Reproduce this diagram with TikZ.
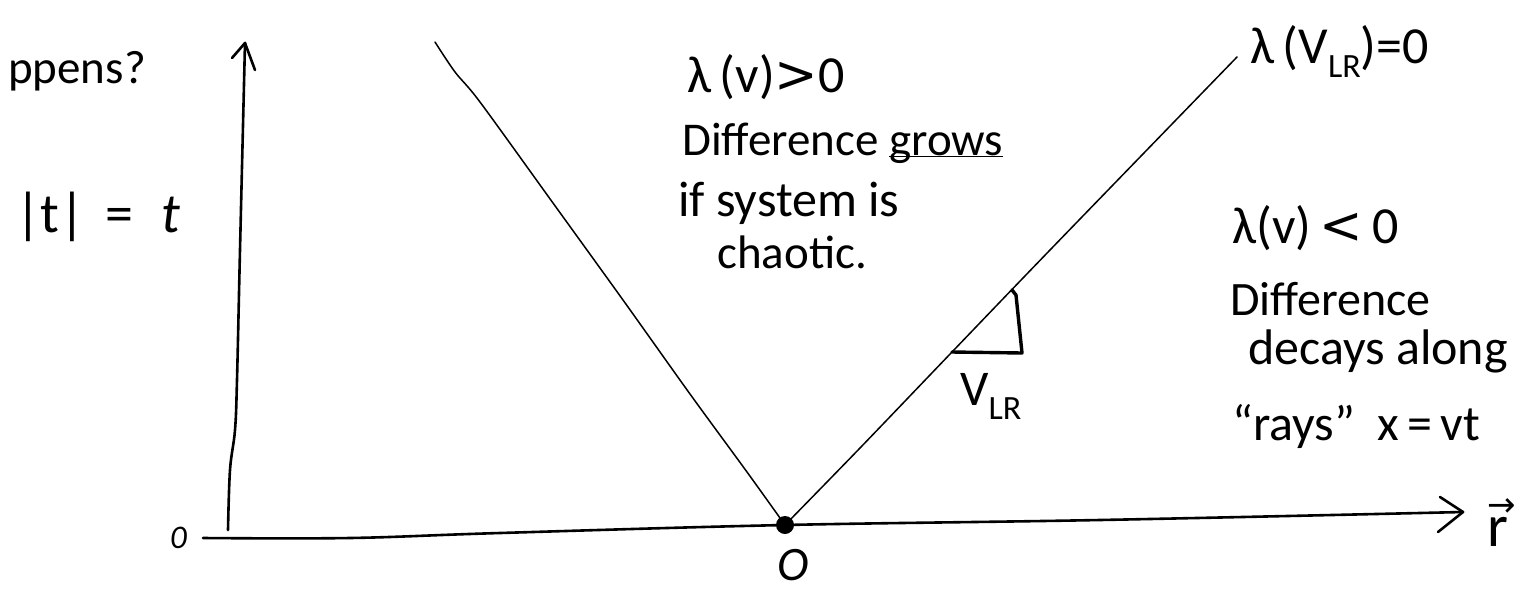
\documentclass[tikz,border=0pt]{standalone}
\usepackage{fontspec}
\setmainfont{Carlito}
\newfontfamily\symf{DejaVu Sans}
\newcommand{\lrsub}[1]{\raisebox{-0.28em}{\fontsize{34}{38}\selectfont #1}}
\newcommand{\vecr}{\rlap{\raisebox{0.5em}{\symf\fontsize{34}{34}\selectfont →}}r}
\begin{document}
\begin{tikzpicture}[x=1pt,y=-1pt,
  lbl/.style={inner sep=0pt, anchor=base west, font=\fontsize{47}{55}\selectfont},
  big/.style={lbl, font=\fontsize{52}{60}\selectfont},
  vline/.style={line width=1.5pt, line cap=round, line join=round},
  axisline/.style={line width=2.6pt, line cap=round, line join=round},
  tri/.style={line width=3.4pt, line cap=round, line join=round}]
\useasboundingbox (0,0) rectangle (1527,590);
% key points
\coordinate (o) at (785,525);
\coordinate (ltop) at (435,42);
\coordinate (rtop) at (1237,57);
\coordinate (ytip) at (245,43);
\coordinate (xtip) at (1463,512);
% axes
\draw[axisline] plot[smooth, tension=0.6] coordinates {(228,530) (230,470) (235,430) (237,380) (240,250) (245,43)};
\draw[axisline] (232,58) -- (ytip) -- (255,70);
\draw[axisline] plot[smooth, tension=0.6] coordinates {(203,538) (350,538) (500,533) (785,525) (1100,520) (1463,512)};
\draw[axisline] (1440,497) -- (xtip) -- (1438,532);
% light cone
\draw[vline] plot[smooth, tension=0.5] coordinates {(ltop) (455,72) (480,102) (553,203) (623,300) (690,394) (747,472) (o)};
\draw[vline] plot[smooth, tension=0.5] coordinates {(o) (860,448) (952,352) (1050,250) (rtop)};
\fill (o) circle[radius=9pt];
% slope triangle
\draw[tri] (952,352) -- (1022,353) -- (1016,295) -- (1012,290);
% labels
\node[lbl] (hap) at (8,83) {ppens?};
\node[lbl, font=\fontsize{56}{62}\selectfont] (tt) at (15,232) {|t|\hspace{0.35em}=\hspace{0.5em}\textit{t}};
\node[big] (lpos) at (687,92) {λ\,(v){\symf >}0};
\node[lbl] (dg) at (682,155) {Difference \underline{\smash{grows}}};
\node[lbl, font=\fontsize{50}{55}\selectfont] (sys) at (678,216) {if system is};
\node[lbl] (cha) at (717,268) {chaotic.};
\node[big] (lvlr) at (1250,63) {λ\,(V\lrsub{LR})=0};
\node[big] (lneg) at (1232,243) {λ(v)\,{\symf <}\,0};
\node[lbl, font=\fontsize{48}{55}\selectfont] (diff2) at (1230,315) {Difference};
\node[lbl, font=\fontsize{50}{55}\selectfont] (dec) at (1248,364) {decays along};
\node[lbl, font=\fontsize{50}{55}\selectfont] (rays) at (1232,440) {“rays”\hspace{0.45em}x\,=\,vt};
\node[lbl, font=\fontsize{50}{55}\selectfont] (vlr) at (960,405) {V\lrsub{LR}};
\node[lbl, font=\itshape\fontsize{33}{40}\selectfont] (zero) at (170,548) {0};
\node[lbl, font=\itshape\fontsize{48}{54}\selectfont] (orig) at (777,580) {O};
\node[lbl, font=\fontsize{60}{62}\selectfont] (rvec) at (1487,546) {\vecr};
\end{tikzpicture}
\end{document}
